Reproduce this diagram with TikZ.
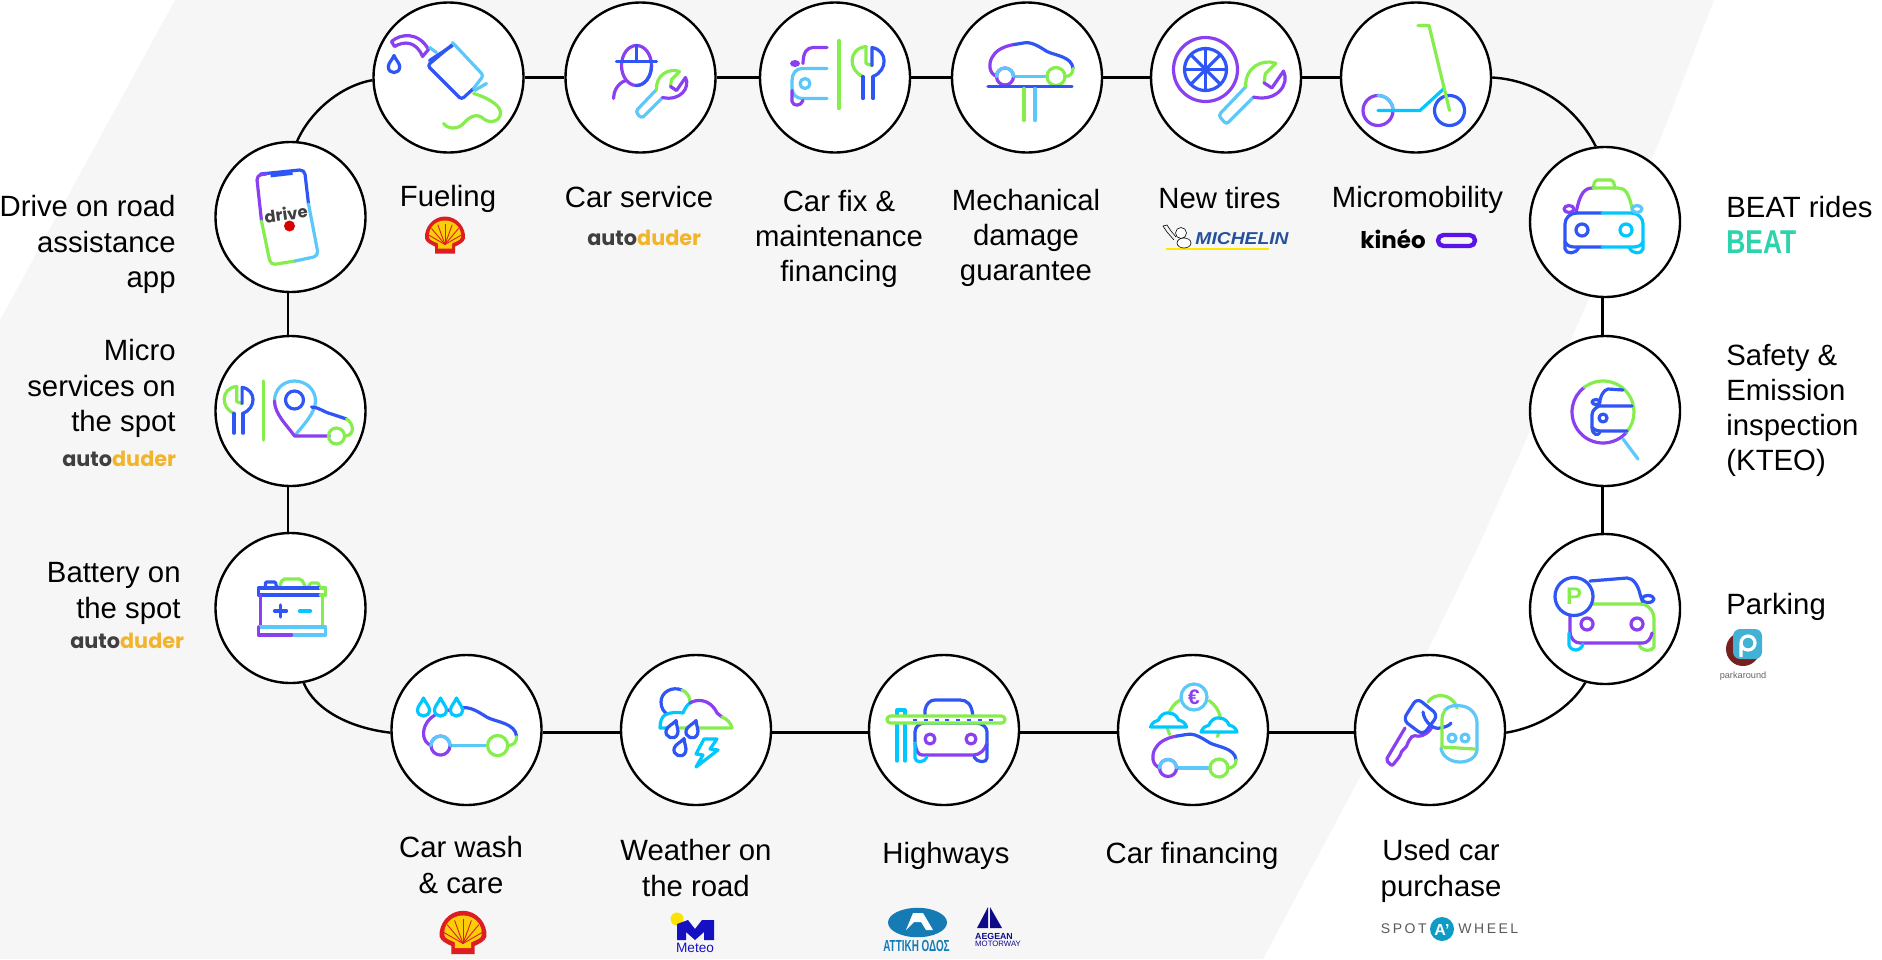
\documentclass[tikz,border=0pt]{standalone}
\usepackage{fontspec}
\usepackage{graphicx}
\setmainfont{Liberation Sans}
\newfontfamily\dudefont{Poppins}
\newfontfamily\spotfont[LetterSpace=18]{Liberation Sans}
\usetikzlibrary{positioning}
\definecolor{ipurple}{HTML}{8A3FF0}
\definecolor{iblue}{HTML}{2F55F5}
\definecolor{ilight}{HTML}{5CC8FA}
\definecolor{igreen}{HTML}{86EE4C}
\definecolor{icyan}{HTML}{00C8FF}
\definecolor{bgray}{HTML}{F6F6F6}
\definecolor{duderdark}{HTML}{3F3F3F}
\definecolor{duderyellow}{HTML}{F2B42C}
\definecolor{shellred}{HTML}{DD1D21}
\definecolor{shellyellow}{HTML}{FBCE07}
\definecolor{navylogo}{HTML}{1510C2}
\definecolor{attiki}{HTML}{157BB5}
\definecolor{spotblue}{HTML}{0E9BC4}
\definecolor{michblue}{HTML}{27509B}
\definecolor{beatgreen}{HTML}{2BD4AB}
\definecolor{kineopill}{HTML}{5B14E8}
\tikzset{
  stopnode/.style={circle,draw=black,line width=1.2pt,fill=white,minimum size=75pt,inner sep=0pt},
  link/.style={line width=1.2pt,black},
  lbl/.style={font=\fontsize{14.66}{17.6}\selectfont,align=center,inner sep=0pt},
  lblr/.style={lbl,align=right,anchor=east},
  lbll/.style={lbl,align=left,anchor=west},
  dudelogo/.style={font=\dudefont\bfseries\fontsize{10.4}{12}\selectfont,inner sep=0pt},
  icon/.style={line width=1.6pt,line cap=round,line join=round},
  drop/.pic={\draw[icon,fill=white] (0,-9) .. controls (-2,-4) and (-6,-1) .. (-6,3) .. controls (-6,7) and (-3,9) .. (0,9) .. controls (3,9) and (6,7) .. (6,3) .. controls (6,-1) and (2,-4) .. (0,-9) -- cycle;},
  cloudy/.pic={\draw[icon,fill=white,draw=icyan] (-18,7) .. controls (-16,2) and (-13,1) .. (-10,0) .. controls (-9,-4) and (-4,-8) .. (0,-7) .. controls (6,-7) and (9,-3) .. (10,0) .. controls (14,1) and (17,3) .. (18,7) -- cycle;},
  wrench/.pic={
    \draw[icon,ilight,rounded corners=1.5pt] (-14,4) -- (-35,26) -- (-29,33) -- (-8,12);
    \draw[icon,igreen] (9,-14) .. controls (-2,-18) and (-15,-10) .. (-14,4);
    \draw[icon,igreen] (9,-14) -- (1,-6) -- (0,1);
    \draw[icon,ipurple] (0,1) -- (6,5) -- (15,-8) .. controls (20,2) and (10,16) .. (-8,12);
  },
  spanner/.pic={
    \draw[icon,igreen] (-2,-14) .. controls (-20,-12) and (-20,10) .. (-5,16);
    \draw[icon,igreen] (-2,-14) -- (-2,3) -- (4,5);
    \draw[icon,iblue] (4,5) -- (4,-13) .. controls (20,-10) and (20,10) .. (5,16);
    \draw[icon,iblue] (-5,16) -- (-5,38) (5,16) -- (5,38);
  },
  sidecar/.pic={
    \draw[icon,ipurple] (-16,-19) .. controls (-28,-17) and (-35,-12) .. (-38,-6) .. controls (-41,-1) and (-42,10) .. (-33,13);
    \draw[icon,iblue] (-16,-19) .. controls (-8,-20) and (-3,-22) .. (2,-20) .. controls (8,-18) and (12,-15) .. (17,-12) .. controls (25,-8) and (42,-7) .. (43,5);
    \draw[icon,igreen] (43,5) .. controls (43,10) and (40,13) .. (35,13);
    \draw[icon,ilight] (-16,13) -- (17,13);
    \draw[icon,igreen] (26,13) circle (9);
    \draw[icon,ipurple] (-25,13) circle (8.5);
    \draw[icon,ilight] (-33.5,13) arc[start angle=180,end angle=360,radius=8.5];
  },
  shell/.pic={
    \fill[shellred] (-10,18) -- (10,18) -- (10,11) .. controls (14,9) and (19,7) .. (20,3) .. controls (21,-8) and (12,-19) .. (0,-19) .. controls (-12,-19) and (-21,-8) .. (-20,3) .. controls (-19,7) and (-14,9) .. (-10,11) -- cycle;
    \fill[shellyellow] (-7,13) -- (7,13) -- (7,8) .. controls (11,6) and (15,5) .. (16,2) .. controls (17,-7) and (10,-15) .. (0,-15) .. controls (-10,-15) and (-17,-7) .. (-16,2) .. controls (-15,5) and (-11,6) .. (-7,8) -- cycle;
    \foreach \a in {-60,-40,-20,0,20,40,60}
      \draw[shellred,line width=.45pt] (0,9) -- ++(\a-90:21);
  }
}
\begin{document}
\begin{tikzpicture}[x=0.5pt,y=-0.5pt]
\useasboundingbox (0,0) rectangle (1882,959);
\fill[bgray] (175,0) -- (1714,0) -- (1660,140) -- (1480,543) -- (1433,640) -- (1263,959) -- (0,959) -- (0,320) -- cycle;

\node[stopnode] (drive) at (290.5,217) {};
\node[stopnode] (microsrv) at (290.5,411) {};
\node[stopnode] (battery) at (290.5,608) {};
\node[stopnode] (fueling) at (448.5,77.5) {};
\node[stopnode] (carservice) at (640.5,77.5) {};
\node[stopnode] (carfix) at (835,77.5) {};
\node[stopnode] (mechanical) at (1027,77.5) {};
\node[stopnode] (newtires) at (1226,77.5) {};
\node[stopnode] (micromob) at (1416,77.5) {};
\node[stopnode] (beat) at (1605,222) {};
\node[stopnode] (safety) at (1605,411) {};
\node[stopnode] (parking) at (1605,609) {};
\node[stopnode] (usedcar) at (1430,730) {};
\node[stopnode] (carfin) at (1193,730) {};
\node[stopnode] (highways) at (944,730) {};
\node[stopnode] (weather) at (696,730) {};
\node[stopnode] (carwash) at (466.5,730) {};

\draw[link] (drive.268) -- (microsrv.92);
\draw[link] (microsrv.268) -- (battery.92);
\draw[link] (fueling) -- (carservice);
\draw[link] (carservice) -- (carfix);
\draw[link] (carfix) -- (mechanical);
\draw[link] (mechanical) -- (newtires);
\draw[link] (newtires) -- (micromob);
\draw[link] (beat.268) -- (safety.92);
\draw[link] (safety.268) -- (parking.92);
\draw[link] (carwash.-2) -- (weather.182);
\draw[link] (weather.-2) -- (highways.182);
\draw[link] (highways.-2) -- (carfin.182);
\draw[link] (carfin.-2) -- (usedcar.182);
\draw[link] (fueling.182) .. controls (340,86) and (310,112) .. (drive.85);
\draw[link] (micromob.0) .. controls (1535,80) and (1575,105) .. (beat.97);
\draw[link] (battery.280) .. controls (315,710) and (350,728) .. (carwash.182);
\draw[link] (usedcar.-2) .. controls (1540,727) and (1570,708) .. (parking.255);

\begin{scope}[shift={(drive)}]
\draw[icon,iblue,rounded corners=2.5pt] (-30,-43) -- (14,-47.5) -- (18,-13);
\draw[icon,ipurple,rounded corners=2.5pt] (-29,4) -- (-34,-42) -- (-24,-43);
\draw[icon,igreen,rounded corners=2.5pt] (-29,4) -- (-20,48) -- (4.5,44);
\draw[icon,ilight,rounded corners=2.5pt] (4.5,44) -- (28,39) -- (18,-13);
\draw[iblue,line width=2.4pt] (-20,-42) -- (2,-44.5);
\node[rotate=8,inner sep=0pt,text=duderdark,font=\dudefont\bfseries\fontsize{8.2}{9}\selectfont] (drivetext) at (-4.5,-3) {drive};
\fill[red!85!black] (-1,9) circle (5.5);
\end{scope}

\begin{scope}[shift={(microsrv)}]
\pic[scale=.9] at (-52,-12) {spanner};
\draw[icon,igreen] (-27,-30) -- (-27,29);
\draw[icon,ilight] (-16,-10) .. controls (-16,-22) and (-7,-30) .. (4,-30) .. controls (15,-30) and (25,-22) .. (25,-10) .. controls (25,2) and (12,15) .. (4,25);
\draw[icon,ipurple] (-16,-10) .. controls (-16,3) and (-3,15) .. (4,25) -- (39,25);
\draw[icon,iblue] (4,-11) circle (9);
\draw[icon,iblue] (21,-4) .. controls (28,-4) and (33,1) .. (41,3) -- (56,8);
\draw[icon,igreen] (46,25) circle (8);
\draw[icon,igreen] (56,8) .. controls (63,12) and (65,24) .. (55,25);
\end{scope}

\begin{scope}[shift={(battery)}]
\draw[icon,igreen,rounded corners=1pt] (-11,-21) -- (-8,-29) -- (11,-29) -- (15,-21);
\draw[icon,iblue,rounded corners=.5pt] (-25,-21) -- (-25,-26) -- (-15,-26) -- (-14,-21);
\draw[icon,igreen,rounded corners=.5pt] (18,-21) -- (20,-25) -- (28,-25) -- (29,-21);
\draw[icon,iblue] (30,-20) -- (-32,-20) -- (-32,-13) -- (30,-13);
\draw[icon,igreen] (30,-20) -- (35,-20) -- (35,-13) -- (30,-13);
\draw[icon,ipurple] (-30,-13) -- (-30,19);
\draw[icon,igreen] (32,-13) -- (32,19);
\draw[icon,iblue] (-16,3) -- (-4,3) (-10,-3) -- (-10,9);
\draw[icon,icyan] (9,3) -- (20,3);
\draw[icon,ilight] (-32,19) -- (35,19) -- (35,27) -- (1,27);
\draw[icon,ipurple] (1,27) -- (-32,27) -- (-32,19);
\end{scope}

\begin{scope}[shift={(fueling)}]
\draw[icon,ipurple] (-57,-36) .. controls (-48,-44) and (-30,-46) .. (-20,-28) -- (-26,-21) .. controls (-32,-36) and (-44,-37) .. (-54,-31) -- cycle;
\pic[iblue,scale=.95] at (-54.5,-13.5) {drop};
\draw[icon,ilight] (-19,-30) -- (-12,-25);
\draw[icon,iblue,rounded corners=1.5pt] (4,-33) -- (-21,-12) -- (13,22) -- (25,11);
\draw[icon,iblue] (-19,-17) -- (4,-32);
\draw[icon,ilight,rounded corners=1.5pt] (4,-35) -- (35,-2) -- (25,11);
\draw[icon,ilight] (26,13) -- (38,6);
\draw[icon,igreen] (25,16) .. controls (33,18) and (52,26) .. (52,35) .. controls (52,44) and (42,46) .. (36,42) .. controls (28,34) and (20,40) .. (14,47) .. controls (8,52) and (0,52) .. (-5,46);
\end{scope}

\begin{scope}[shift={(carservice)}]
\draw[icon,ipurple] (-4,-12) circle[x radius=15,y radius=20];
\draw[icon,iblue] (11,-12) arc[start angle=0,end angle=90,x radius=15,y radius=20];
\draw[icon,iblue] (-24,-16) -- (16,-16) (-4,-32) -- (-4,-16);
\draw[icon,ipurple] (-15,3) .. controls (-23,6) and (-27,14) .. (-27,21);
\pic at (30,8) {wrench};
\end{scope}

\begin{scope}[shift={(carfix)}]
\draw[icon,ipurple] (-8,-30) -- (-22,-30) .. controls (-28,-30) and (-32,-25) .. (-32,-14);
\fill[ipurple] (-40,-14) circle[x radius=5,y radius=3.5];
\draw[icon,ilight] (-8,-9) -- (-33,-9) .. controls (-39,-9) and (-43,-4) .. (-43,3) -- (-43,11) .. controls (-43,17) and (-38,21) .. (-33,21) -- (-8,21);
\draw[icon,ilight] (-30,6) circle (5);
\draw[icon,ipurple] (-43,13) -- (-43,24) .. controls (-42,29) and (-34,29) .. (-32,23);
\draw[icon,igreen] (4,-37) -- (4,31);
\pic at (33,-17) {spanner};
\end{scope}

\begin{scope}[shift={(mechanical)}]
\pic at (3,-14) {sidecar};
\draw[icon,iblue] (-39,9) -- (45,9);
\draw[icon,igreen] (-3,11) -- (-3,43);
\draw[icon,ilight] (8,11) -- (8,43);
\end{scope}

\begin{scope}[shift={(newtires)}]
\draw[icon,ipurple] (-20.5,-8) circle (32);
\draw[icon,iblue] (-20.5,-8) circle (21);
\foreach \a in {0,45,...,135}
  \draw[icon,iblue] (-20.5,-8) ++(\a:21) -- ++(\a+180:42);
\pic[scale=1.3] at (38,4) {wrench};
\end{scope}

\begin{scope}[shift={(micromob)}]
\draw[icon,ipurple] (-38,33) circle (15);
\draw[icon,ilight] (-38,18) arc[start angle=-90,end angle=0,radius=15];
\draw[icon,iblue] (33.5,33) circle (15);
\draw[icon,icyan] (-38,33) -- (4,33) -- (28,11);
\draw[icon,igreen] (2,-52) -- (13,-52) -- (33.5,33);
\end{scope}

\begin{scope}[shift={(beat)}]
\draw[icon,igreen,rounded corners=1pt] (-12,-34) -- (-10,-42) -- (8,-42) -- (10,-34);
\draw[icon,ipurple] (-12,-34) .. controls (-20,-34) and (-25,-30) .. (-29,-9);
\draw[icon,igreen] (-12,-34) -- (13,-34) .. controls (20,-34) and (24,-30) .. (28,-9);
\draw[icon,iblue] (-3,-9) -- (-28,-9) .. controls (-35,-9) and (-40,-4) .. (-40,2) -- (-40,20) .. controls (-38,24) and (-34,25) .. (-30,25) -- (-3,25);
\draw[icon,icyan] (-3,-9) -- (26,-9) .. controls (33,-9) and (38,-4) .. (38,2) -- (38,20) .. controls (36,24) and (32,25) .. (28,25) -- (-3,25);
\draw[icon,iblue] (-23,8) circle (6);
\draw[icon,icyan] (21,8) circle (6);
\draw[icon,ipurple] (-36,-13) circle[x radius=5,y radius=3.5];
\draw[icon,ilight] (32,-13) circle[x radius=5,y radius=3.5];
\draw[icon,iblue] (-40,20) -- (-40,27) .. controls (-39,32) and (-29,33) .. (-26,25);
\draw[icon,icyan] (38,20) -- (38,27) .. controls (37,32) and (27,33) .. (24,25);
\end{scope}

\begin{scope}[shift={(safety)}]
\draw[icon,ipurple] (-2,1) ++(41:31) arc[start angle=41,end angle=233,radius=31];
\draw[icon,igreen] (-2,1) ++(233:31) arc[start angle=233,end angle=401,radius=31];
\draw[icon,ilight] (18,28) -- (33,48);
\draw[icon,iblue] (18,-21) -- (3,-22) .. controls (-2,-21) and (-5,-14) .. (-6,-5) -- (27,-5);
\draw[icon,iblue] (-6,-5) .. controls (-10,-3) and (-13,0) .. (-13,4) -- (-13,16) .. controls (-11,19) and (-8,20) .. (-5,20) -- (22,20);
\draw[icon,iblue] (-13,16) .. controls (-13,25) and (-6,25) .. (-5,21);
\draw[icon,iblue] (-9,-9) circle[x radius=4,y radius=2.5];
\draw[icon,iblue] (-2,7) circle (4);
\end{scope}

\begin{scope}[shift={(parking)}]
\draw[icon,iblue] (-15,-28) -- (22,-31) .. controls (28,-31) and (33,-24) .. (35,-15) .. controls (36,-11) and (37,-9) .. (38,-6);
\draw[icon,iblue] (43,-10) circle[x radius=6,y radius=3.5];
\draw[icon,igreen] (-13,-5) -- (35,-5) .. controls (43,-5) and (49,2) .. (49,10) -- (49,38) .. controls (47,43) and (36,43) .. (34,35);
\draw[icon,ipurple] (-35,4) -- (-35,22) .. controls (-35,30) and (-30,34) .. (-25,34) -- (38,34) .. controls (42,34) and (46,30) .. (47,24);
\draw[icon,ipurple] (-18,15) circle (6);
\draw[icon,ipurple] (32,15) circle (6);
\draw[icon,icyan] (-36,24) -- (-36,36) .. controls (-34,43) and (-24,43) .. (-22,35);
\draw[icon,iblue,fill=white] (-31,-12.5) circle (19);
\node[text=igreen,font=\bfseries\fontsize{12}{14}\selectfont,inner sep=0pt] (ptext) at (-31,-12.5) {P};
\end{scope}

\begin{scope}[shift={(usedcar)}]
\draw[icon,igreen] (-2,-28) .. controls (3,-37) and (22,-38) .. (27,-22);
\draw[icon,ipurple,rounded corners=1pt] (-25,-2) -- (-44,30) -- (-38,36) -- (-30,26) -- (-28,20) -- (-24,18) -- (-22,12) -- (-17,5) .. controls (-12,7) and (-3,6) .. (2,-3);
\draw[icon,iblue,rounded corners=3pt] (-13,-32) -- (8,-15) -- (-7,5) -- (-27,-10) -- cycle;
\draw[icon,iblue] (-7,-18) .. controls (-6,-8) and (4,0) .. (10,-2) .. controls (15,-3) and (19,-4) .. (21,-7);
\draw[icon,ilight] (15,-20) .. controls (19,-25) and (27,-25) .. (32,-24) .. controls (40,-23) and (47,-16) .. (47,-7) -- (47,20) .. controls (46,28) and (38,32) .. (30,32) .. controls (20,32) and (12,26) .. (11,18);
\draw[icon,igreen] (15,-20) .. controls (13,-17) and (12,-14) .. (12,-10) -- (12,17) -- (45,19);
\draw[icon,ilight] (22,8) circle (4);
\draw[icon,ilight] (35,8) circle (4);
\end{scope}

\begin{scope}[shift={(carfin)}]
\draw[icon,igreen] (1,-7) ++(155:27) arc[start angle=155,end angle=240,radius=27];
\draw[icon,igreen] (1,-7) ++(304:27) arc[start angle=304,end angle=390,radius=27];
\draw[icon,ilight,fill=white] (1,-33) circle (13);
\node[text=ipurple,font=\bfseries\fontsize{10.5}{12}\selectfont,inner sep=0pt] (euro) at (1,-33) {€};
\pic at (-24.5,-10) {cloudy};
\pic at (26,-5) {cloudy};
\pic at (0,25) {sidecar};
\end{scope}

\begin{scope}[shift={(highways)}]
\draw[icon,iblue] (-19,-13) -- (-19,-20) .. controls (-18,-26) and (-14,-30) .. (-9,-30) -- (16,-30) .. controls (23,-30) and (28,-26) .. (29,-13);
\draw[icon,iblue] (-29,12) -- (-29,2) .. controls (-29,-3) and (-25,-7) .. (-19,-7) -- (33,-7) .. controls (39,-6) and (43,-3) .. (43,2) -- (43,15);
\draw[icon,ipurple] (-29,13) .. controls (-28,20) and (-26,25) .. (-22,25) -- (29,25) .. controls (36,25) and (41,20) .. (43,13);
\draw[icon,icyan] (-29,13) -- (-29,28) .. controls (-29,33) and (-19,33) .. (-17,27);
\draw[icon,iblue] (43,15) -- (43,28) .. controls (43,33) and (33,33) .. (30,27);
\draw[icon,ipurple] (-14,9) circle (5);
\draw[icon,ipurple] (27,9) circle (5);
\draw[icon,icyan] (-47,31) -- (-47,-20) -- (-39,-20) -- (-39,31);
\draw[icon,igreen,fill=white,rounded corners=1.7pt] (-57,-14) rectangle (61,-7);
\draw[iblue,line width=1pt,dash pattern=on 2pt off 3.4pt] (-31,-10.5) -- (49,-10.5);
\end{scope}

\begin{scope}[shift={(weather)}]
\draw[icon,iblue] (-14,-40) .. controls (-24,-44) and (-35,-38) .. (-35,-28) .. controls (-35,-22) and (-32,-18) .. (-29,-16);
\draw[icon,igreen] (-14,-40) .. controls (-9,-38) and (-6,-33) .. (-6,-28);
\draw[icon,icyan] (-24,-2) -- (-36,-2) .. controls (-36,-9) and (-34,-13) .. (-31,-15) .. controls (-26,-18) and (-19,-18) .. (-13,-17) .. controls (-11,-22) and (-9,-25) .. (-6,-27);
\draw[icon,ipurple] (-6,-27) .. controls (0,-31) and (14,-32) .. (21,-17) -- (26,-13);
\draw[icon,igreen] (26,-13) .. controls (31,-11) and (35,-7) .. (36,-2) -- (-16,-2);
\pic[iblue,rotate=-20] at (-23,-1) {drop};
\pic[iblue,rotate=-20] at (-3,-1) {drop};
\pic[iblue,rotate=-20] at (-15,17) {drop};
\draw[icon,icyan] (8,9) -- (21,9) -- (14,19) -- (22,20) -- (0,37) -- (7,25) -- (0,24) -- cycle;
\end{scope}

\begin{scope}[shift={(carwash)}]
\pic[scale=1.12] at (2,1) {sidecar};
\pic[icyan] at (-43,-23) {drop};
\pic[icyan] at (-26,-23) {drop};
\pic[icyan] at (-10,-23) {drop};
\end{scope}

\node[lblr] (drivelbl) at (176,244.5) {Drive on road\\assistance\\app};
\node[lblr] (microlbl) at (176,388.5) {Micro\\services on\\the spot};
\node[lblr] (batterylbl) at (181,593.5) {Battery on\\the spot};
\node[lbl] (fuellbl) at (448,199) {Fueling};
\node[lbl] (servicelbl) at (639,197) {Car service};
\node[lbl] (fixlbl) at (839,239) {Car fix \&\\maintenance\\financing};
\node[lbl] (mechlbl) at (1026,238) {Mechanical\\damage\\guarantee};
\node[lbl] (tireslbl) at (1219.5,198) {New tires};
\node[lbl] (mobilbl) at (1417.5,200) {Micromobility};
\node[lbll] (beatlbl) at (1726,207) {BEAT rides};
\node[lbll] (safetylbl) at (1726,410.5) {Safety \&\\Emission\\inspection\\(KTEO)};
\node[lbll] (parklbl) at (1726,607) {Parking};
\node[lbl] (washlbl) at (461,865) {Car wash\\\& care};
\node[lbl] (weatherlbl) at (696,868) {Weather on\\the road};
\node[lbl] (highlbl) at (946,856) {Highways};
\node[lbl] (finlbl) at (1192,856) {Car financing};
\node[lbl] (usedlbl) at (1441,871) {Used car\\purchase};

\pic at (445,235.5) {shell};
\pic[scale=1.17] at (463,933) {shell};
\node[dudelogo,anchor=east] (dude1) at (701.5,238) {\color{duderdark}auto\color{duderyellow}duder};
\node[dudelogo,anchor=east] (dude2) at (176.5,459) {\color{duderdark}auto\color{duderyellow}duder};
\node[dudelogo,anchor=east] (dude3) at (184.5,641) {\color{duderdark}auto\color{duderyellow}duder};

\node[inner sep=0pt,text=michblue,font=\bfseries\itshape\fontsize{8.6}{10}\selectfont] (michelin) at (1242,239) {\scalebox{1.12}[1]{MICHELIN}};
\draw[yellow!90!orange,line width=1.1pt] (1166,249) -- (1269,249);
\draw[black,line width=.3pt,fill=white] (1184,243) circle[x radius=7,y radius=5] (1181,233) circle (5.5);
\draw[black,line width=.3pt] (1174,240) -- (1167,232) -- (1163,226) -- (1167,225) -- (1171,231) -- (1176,237);

\node[inner sep=0pt,font=\dudefont\bfseries\fontsize{11.5}{13}\selectfont,anchor=west] (kineo) at (1360,239) {kinéo};
\draw[kineopill,line width=2.2pt,rounded corners=2.7pt] (1438,235) rectangle (1475,246);

\node[inner sep=0pt,anchor=west,text=beatgreen,font=\bfseries\fontsize{16.5}{18}\selectfont] (beatlogo) at (1726,242) {\scalebox{.8}[1]{BEAT}};

\fill[red!45!black!75!gray] (1743,649) circle (17);
\fill[ilight!70!teal,rounded corners=3.5pt] (1733,629) rectangle (1762,659);
\draw[white,line width=1.6pt] (1748,643) circle (7) (1741,643) -- (1741,657);
\node[inner sep=0pt,text=black!60,font=\fontsize{4.6}{5}\selectfont] (parktext) at (1743,676) {parkaround};

\fill[yellow!85!orange] (677,919) circle (6.5);
\fill[navylogo] (677,924) -- (688,920) -- (695,929) -- (702,920) -- (714,920) -- (714,940) -- (704,940) -- (704,932) -- (695,940) -- (686,932) -- (686,940) -- (677,940) -- cycle;
\node[inner sep=0pt,text=navylogo,font=\fontsize{6.8}{8}\selectfont] (meteotext) at (695,948) {Meteo};

\fill[attiki] (917.5,922.5) circle[x radius=29.5,y radius=14.7];
\fill[white] (906,930) -- (913,913) -- (923,913) -- (933,930) -- (926,930) -- (921,922) -- (914,922) -- cycle;
\node[inner sep=0pt,text=attiki,font=\bfseries\fontsize{8}{9}\selectfont] (attikitext) at (916.5,946) {\scalebox{.62}[1]{ΑΤΤΙΚΗ ΟΔΟΣ}};

\fill[navylogo!70!black] (988,907) -- (988,928) -- (977,928) -- cycle;
\fill[navylogo!70!black] (990,907) -- (1002,928) -- (990,928) -- cycle;
\node[inner sep=0pt,text=navylogo!70!black,font=\bfseries\fontsize{4.4}{5}\selectfont] (aegeantext) at (994,936) {AEGEAN};
\node[inner sep=0pt,text=navylogo!70!black,font=\fontsize{3.9}{5}\selectfont] (motortext) at (998,944) {MOTORWAY};

\node[inner sep=0pt,anchor=east,text=black!65,font=\spotfont\fontsize{7}{8}\selectfont] (spottext) at (1427,929) {SPOT};
\fill[spotblue] (1442,929) circle (12);
\node[inner sep=0pt,text=white,font=\bfseries\fontsize{8}{9}\selectfont] (spota) at (1442,930) {A’};
\node[inner sep=0pt,anchor=west,text=black!65,font=\spotfont\fontsize{7}{8}\selectfont] (wheeltext) at (1458,929) {WHEEL};
\end{tikzpicture}
\end{document}
